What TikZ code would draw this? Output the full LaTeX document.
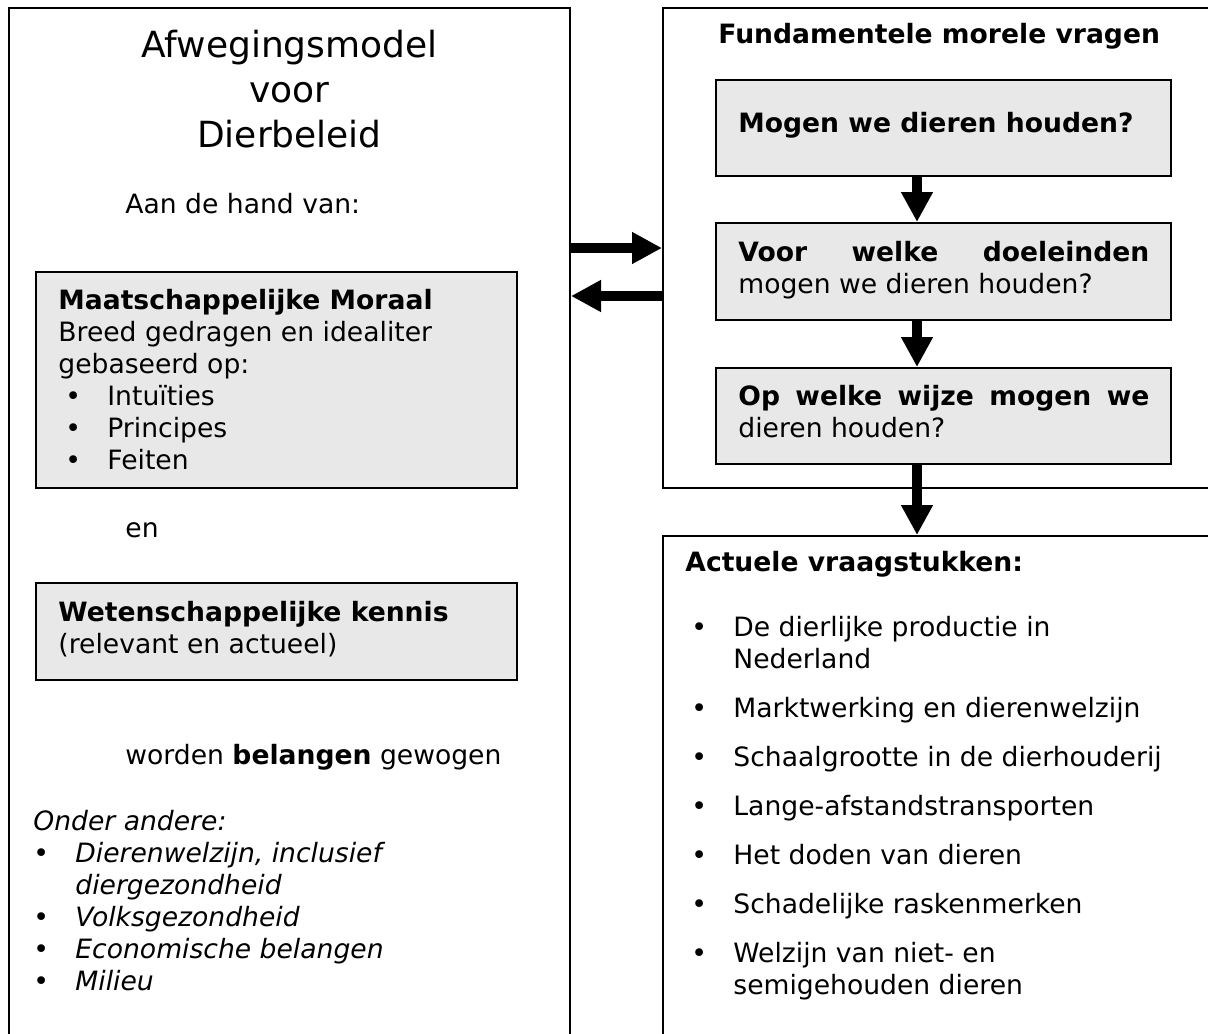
\documentclass[tikz,border=0pt]{standalone}
\usepackage{fontspec}
\setmainfont{DejaVu Sans}
\usepackage{xcolor}
\usepackage{tikz}
\usetikzlibrary{arrows.meta}
\usetikzlibrary{fit}
\usetikzlibrary{positioning}
\definecolor{vakgrijs}{HTML}{E8E8E8}
\newcommand{\bol}[1]{\makebox[21pt][l]{\textbullet}#1}
\tikzset{
  kader/.style={
    draw=black,
    line width=1pt,
    inner sep=0pt,
  },
  vak/.style={
    kader,
    fill=vakgrijs,
  },
  tekst/.style={
    anchor=base west,
    inner sep=0pt,
    align=left,
    font=\fontsize{13.3}{16}\selectfont
  },
  dikpijl/.style={
    draw=black,
    line width=4.75pt,
    -{Triangle[length=15pt,width=15pt]},
  },
}

\begin{document}
\begin{tikzpicture}[x=0.5pt,y=-0.5pt]
       \clip (0,0) rectangle (1208,1033);
       \useasboundingbox (0,0) rectangle (1208,1033);

       % linker kolom (tekst staat op de basislijn van de laatste regel)
       \node[kader, fit={(9,8) (570,1045)}] (links) {};
       \node[anchor=base, inner sep=0pt, align=center, font=\fontsize{18}{22.5}\selectfont] (titel) at (289.5,147) {Afwegingsmodel\\voor\\Dierbeleid};
       \node[tekst] (hand) at (125,213) {Aan de hand van:};

       \node[vak, fit={(36,272) (517,488)}] (moraal) {};
       \node[tekst] (moraaltxt) at (58,469) {\textbf{Maatschappelijke Moraal}\\Breed gedragen en idealiter\\gebaseerd op:\\
         \hspace*{3.5pt}\bol{Intuïties}\\\hspace*{3.5pt}\bol{Principes}\\\hspace*{3.5pt}\bol{Feiten}};

       \node[tekst] (en) at (125,537) {en};

       \node[vak, fit={(36,583) (517,680)}] (kennis) {};
       \node[tekst] (kennistxt) at (58,653) {\textbf{Wetenschappelijke kennis}\\(relevant en actueel)};

       \node[tekst] (belangen) at (125,764) {worden \textbf{belangen} gewogen};
       \node[tekst, font=\fontsize{13.3}{16}\selectfont\itshape] (onder) at (33,990) {Onder andere:\\
         \bol{Dierenwelzijn, inclusief}\\\hspace*{21pt}diergezondheid\\\bol{Volksgezondheid}\\\bol{Economische belangen}\\\bol{Milieu}};

       % rechter kolom
       \node[kader, fit={(663,8) (1215,488)}] (vragen) {};
       \node[tekst] (vragenkop) at (718,43) {\textbf{Fundamentele morele vragen}};

       \node[vak, fit={(716,80) (1171,176)}] (q1) {};
       \node[tekst] (q1txt) at (738,132) {\textbf{Mogen we dieren houden?}};
       \node[vak, fit={(716,223) (1171,320)}] (q2) {};
       \node[tekst] (q2txt) at (738,293) {\bfseries\makebox[205.5pt][s]{Voor welke doeleinden}\\mogen we dieren houden?};
       \node[vak, fit={(716,368) (1171,464)}] (q3) {};
       \node[tekst] (q3txt) at (738,437) {\bfseries\makebox[205.5pt][s]{Op welke wijze mogen we}\\dieren houden?};

       \node[kader, fit={(663,536) (1215,1045)}] (actueel) {};
       \node[tekst] (actueelkop) at (685,571) {\textbf{Actuele vraagstukken:}};
       \node[tekst] (actueeltxt) at (691,994) {\bol{De dierlijke productie in}\\\hspace*{21pt}Nederland\\[8.5pt]
         \bol{Marktwerking en dierenwelzijn}\\[8.5pt]\bol{Schaalgrootte in de dierhouderij}\\[8.5pt]
         \bol{Lange-afstandstransporten}\\[8.5pt]\bol{Het doden van dieren}\\[8.5pt]
         \bol{Schadelijke raskenmerken}\\[8.5pt]\bol{Welzijn van niet- en}\\\hspace*{21pt}semigehouden dieren};

       % pijlen
       \coordinate (as) at (917,0);
       \coordinate (heen) at (0,248);
       \coordinate (terug) at (0,296);
       \draw[dikpijl] (links.east |- heen) -- (vragen.west |- heen);
       \draw[dikpijl] (vragen.west |- terug) -- (links.east |- terug);
       \draw[dikpijl] (q1.south -| as) -- (q2.north -| as);
       \draw[dikpijl] (q2.south -| as) -- (q3.north -| as);
       \draw[dikpijl] (q3.south -| as) -- (actueel.north -| as);
\end{tikzpicture}
\end{document}
